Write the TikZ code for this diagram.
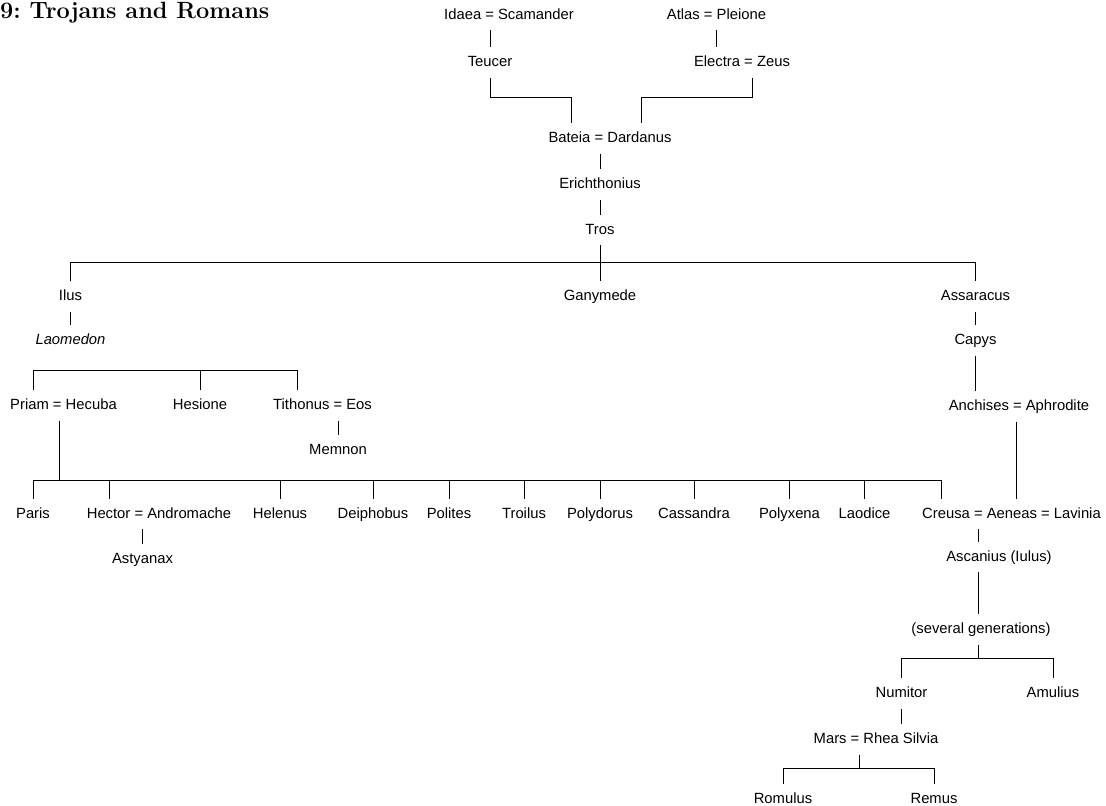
\documentclass[tikz,border=0pt]{standalone}
\usepackage{fontspec}
\newfontfamily\namefont{Liberation Sans}
\usetikzlibrary{calc}

\begin{document}
\frenchspacing
\begin{tikzpicture}[x=1pt,y=-1pt,
  person/.style={anchor=base,font=\namefont\fontsize{14.8}{16}\selectfont,
    text height=11pt,text depth=3pt,inner xsep=0pt,inner ysep=8pt},
  kin/.style={line width=0.8pt}]
  \useasboundingbox (0,0) rectangle (1106,806);
  \node[anchor=base west,inner sep=0pt,font=\bfseries\fontsize{23.5}{26}\selectfont] (title) at (0,18) {9: Trojans and Romans};
  % the gods and the first kings
  \node[person] (idaea) at (509,19) {Idaea = Scamander};
  \node[person] (atlas) at (716.5,19) {Atlas = Pleione};
  \node[person] (teucer) at (490,66.5) {Teucer};
  \node[person] (electra) at (742,66.5) {Electra = Zeus};
  \node[person] (bateia) at (610,142.5) {Bateia = Dardanus};
  \node[person] (erich) at (600,188.5) {Erichthonius};
  \node[person] (tros) at (600,234) {Tros};
  \node[person] (ilus) at (70.5,300.5) {Ilus};
  \node[person] (ganymede) at (600,300.5) {Ganymede};
  \node[person] (assaracus) at (975.5,300.5) {Assaracus};
  \node[person] (laomedon) at (70.5,344.5) {\itshape Laomedon};
  \node[person] (capys) at (975.5,344.5) {Capys};
  \node[person] (priam) at (63.5,409.5) {Priam = Hecuba};
  \node[person] (hesione) at (200,409.5) {Hesione};
  \node[person] (tithonus) at (322.5,409.5) {Tithonus = Eos};
  \node[person] (memnon) at (338,454.5) {Memnon};
  \node[person] (anchises) at (1019,410.5) {Anchises = Aphrodite};
  % children of Priam
  \foreach \n/\x/\t in {paris/33/Paris, hector/159/Hector = Andromache,
      helenus/280/Helenus, deiphobus/373/Deiphobus, polites/449/Polites,
      troilus/524/Troilus, polydorus/600/Polydorus, cassandra/694/Cassandra,
      polyxena/789.5/Polyxena, laodice/864.5/Laodice,
      creusa/1011.5/Creusa = Aeneas = Lavinia}
    \node[person] (\n) at (\x,518) {\t};
  \node[person] (astyanax) at (142.5,563) {Astyanax};
  \node[person] (ascanius) at (999,561) {Ascanius (Iulus)};
  \node[person] (several) at (981,633.5) {(several generations)};
  \node[person] (numitor) at (901.5,697.5) {Numitor};
  \node[person] (amulius) at (1053,697.5) {Amulius};
  \node[person] (mars) at (876,743.5) {Mars = Rhea Silvia};
  \node[person] (romulus) at (783,803.5) {Romulus};
  \node[person] (remus) at (934,803.5) {Remus};

  \draw[kin] (teucer.north |- idaea.south) -- (teucer.north);
  \draw[kin] (atlas.south) -- (atlas.south |- electra.north);
  \draw[kin] (teucer.south) -- ++(0,19.5) -| ([xshift=-39pt]bateia.north);
  \draw[kin] ([xshift=10pt]electra.south) -- ++(0,19.5) -| ([xshift=31pt]bateia.north);
  \draw[kin] (erich.north |- bateia.south) -- (erich.north);
  \draw[kin] (erich.south) -- (tros.north);
  \draw[kin] (tros.south) -- (ganymede.north);
  \coordinate (trosbar) at ($(tros.south)+(0,17)$);
  \draw[kin] (ilus.north) |- (trosbar) -| (assaracus.north);
  \draw[kin] (ilus.south) -- (laomedon.north);
  \draw[kin] (assaracus.south) -- (capys.north);
  \draw[kin] (capys.south) -- (capys.south |- anchises.north);
  \coordinate (laobar) at ($(laomedon.south)+(0,14.5)$);
  \draw[kin] ([xshift=-30.5pt]priam.north) |- (laobar) -| ([xshift=-25.5pt]tithonus.north);
  \draw[kin] (hesione.north) -- (hesione.north |- laobar);
  \draw[kin] (memnon.north |- tithonus.south) -- (memnon.north);
  \coordinate (priambar) at ($(priam.south)+(-4.5,59.5)$);
  \draw[kin] ([xshift=-4.5pt]priam.south) -- (priambar);
  \draw[kin] (paris.north) |- (priambar) -| ([xshift=-70.5pt]creusa.north);
  \draw[kin] ([xshift=-50pt]hector.north) -- ++(0,-19);
  \foreach \c in {helenus,deiphobus,polites,troilus,polydorus,cassandra,polyxena,laodice}
    \draw[kin] (\c.north) -- (\c.north |- priambar);
  \draw[kin] (astyanax.north |- hector.south) -- (astyanax.north);
  % the line of Aeneas
  \draw[kin] ([xshift=-3pt]anchises.south) -- ([xshift=4.5pt]creusa.north);
  \draw[kin] ([xshift=-33.5pt]creusa.south) -- ([xshift=-21pt]ascanius.north);
  \draw[kin] ([xshift=-21pt]ascanius.south) -- ([xshift=-3pt]several.north);
  \coordinate (sevbar) at ($(several.south)+(-3,13.5)$);
  \draw[kin] ([xshift=-3pt]several.south) -- (sevbar);
  \draw[kin] (numitor.north) |- (sevbar) -| (amulius.north);
  \draw[kin] (numitor.south) -- (numitor.south |- mars.north);
  \coordinate (marsbar) at ($(mars.south)+(-17,13.5)$);
  \draw[kin] ([xshift=-17pt]mars.south) -- (marsbar);
  \draw[kin] (romulus.north) |- (marsbar) -| (remus.north);
\end{tikzpicture}
\end{document}
